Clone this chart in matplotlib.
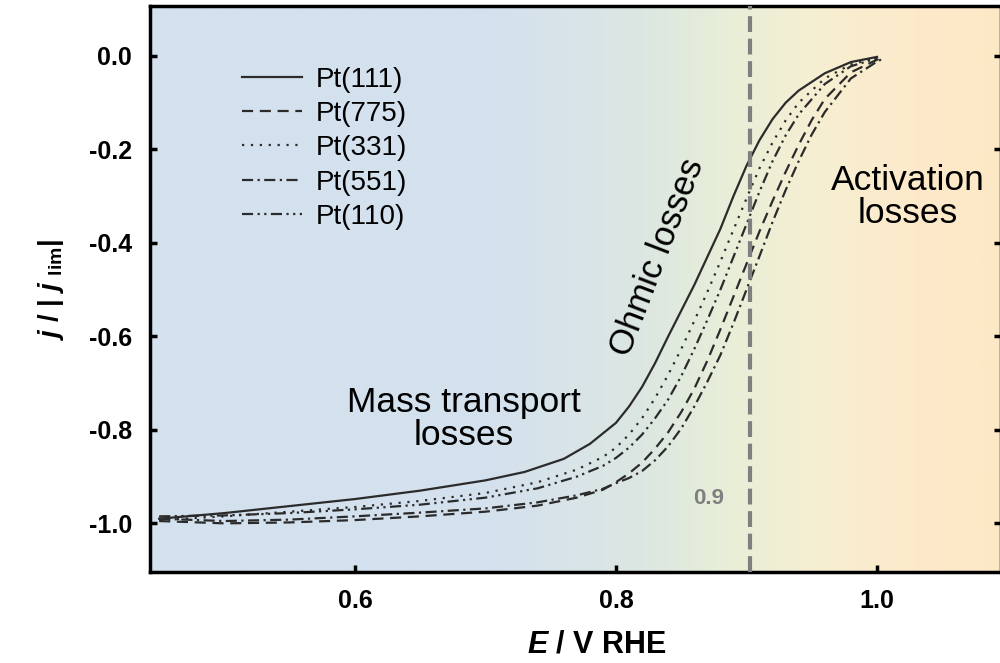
import numpy as np
import matplotlib.pyplot as plt
from matplotlib.colors import LinearSegmentedColormap

plt.rcParams['font.family'] = 'Liberation Sans'
plt.rcParams['mathtext.fontset'] = 'custom'
plt.rcParams['mathtext.rm'] = 'Liberation Sans:bold'
plt.rcParams['mathtext.it'] = 'Liberation Sans:italic:bold'
plt.rcParams['mathtext.bf'] = 'Liberation Sans:bold'

# normalised ORR polarisation curves, E in V vs RHE
E_111 = [0.45, 0.50, 0.55, 0.60, 0.65, 0.70, 0.73, 0.76, 0.78, 0.80, 0.81,
         0.82, 0.83, 0.84, 0.85, 0.86, 0.87, 0.88, 0.89, 0.90, 0.91, 0.92,
         0.93, 0.94, 0.96, 0.98, 1.00]
j_111 = [-0.990, -0.978, -0.963, -0.948, -0.930, -0.908, -0.890, -0.862,
         -0.830, -0.785, -0.750, -0.708, -0.657, -0.600, -0.545, -0.490,
         -0.430, -0.370, -0.300, -0.235, -0.180, -0.135, -0.100, -0.074,
         -0.037, -0.013, -0.002]

E_331 = [0.45, 0.50, 0.55, 0.60, 0.65, 0.70, 0.74, 0.77, 0.79, 0.80, 0.81,
         0.82, 0.83, 0.84, 0.85, 0.86, 0.87, 0.88, 0.89, 0.90, 0.91, 0.92,
         0.93, 0.94, 0.96, 0.98, 1.00]
j_331 = [-0.993, -0.985, -0.975, -0.965, -0.952, -0.935, -0.912, -0.885,
         -0.858, -0.838, -0.810, -0.775, -0.732, -0.682, -0.627, -0.567,
         -0.505, -0.440, -0.372, -0.305, -0.240, -0.185, -0.138, -0.100,
         -0.048, -0.018, -0.004]

E_110 = [0.45, 0.50, 0.55, 0.60, 0.65, 0.70, 0.74, 0.77, 0.79, 0.80, 0.81,
         0.82, 0.83, 0.84, 0.85, 0.86, 0.87, 0.88, 0.89, 0.90, 0.91, 0.92,
         0.93, 0.94, 0.96, 0.98, 1.00]
j_110 = [-0.985, -0.983, -0.978, -0.970, -0.960, -0.945, -0.925, -0.900,
         -0.877, -0.860, -0.838, -0.810, -0.775, -0.735, -0.685, -0.627,
         -0.565, -0.500, -0.430, -0.360, -0.290, -0.225, -0.170, -0.125,
         -0.060, -0.022, -0.005]

E_775 = [0.45, 0.50, 0.55, 0.60, 0.65, 0.70, 0.74, 0.77, 0.79, 0.80, 0.81,
         0.82, 0.83, 0.84, 0.85, 0.86, 0.87, 0.88, 0.89, 0.90, 0.91, 0.92,
         0.93, 0.94, 0.95, 0.96, 0.98, 1.00, 1.005]
j_775 = [-0.995, -1.000, -0.998, -0.993, -0.985, -0.975, -0.962, -0.945,
         -0.928, -0.912, -0.893, -0.870, -0.840, -0.805, -0.762, -0.712,
         -0.652, -0.585, -0.515, -0.445, -0.375, -0.310, -0.248, -0.190,
         -0.137, -0.092, -0.035, -0.008, -0.004]

E_551 = [0.45, 0.50, 0.55, 0.60, 0.65, 0.70, 0.74, 0.77, 0.79, 0.80, 0.81,
         0.82, 0.83, 0.84, 0.85, 0.86, 0.87, 0.88, 0.89, 0.90, 0.91, 0.92,
         0.93, 0.94, 0.95, 0.96, 0.98, 1.00, 1.005]
j_551 = [-0.990, -0.995, -0.992, -0.985, -0.977, -0.968, -0.955, -0.940,
         -0.926, -0.914, -0.903, -0.888, -0.865, -0.835, -0.797, -0.750,
         -0.697, -0.640, -0.572, -0.500, -0.428, -0.355, -0.287, -0.225,
         -0.168, -0.120, -0.048, -0.012, -0.005]

E_ref = 0.903

fig = plt.figure(figsize=(10, 6.63), dpi=100)
ax = fig.add_axes([0.150, 0.1373, 0.851, 0.8537])

# background gradient: blue -> green -> yellow -> peach
bg = LinearSegmentedColormap.from_list('bg', [
    (0.00, '#d4e1ee'), (0.40, '#d4e1ee'), (0.58, '#dce7e2'),
    (0.68, '#e8eed8'), (0.78, '#f6efd2'), (0.90, '#fdeacb'),
    (1.00, '#fde8c6')])
grad = np.linspace(0, 1, 512).reshape(1, -1)
ax.imshow(grad, cmap=bg, extent=[0, 1, 0, 1], transform=ax.transAxes,
          aspect='auto', zorder=0, interpolation='bicubic')

col = '#2b2b2b'
lw = 1.6
ax.plot(E_111, j_111, color=col, lw=lw, ls='-', label='Pt(111)')
ax.plot(E_775, j_775, color=col, lw=lw, ls=(0, (5, 3)), label='Pt(775)')
ax.plot(E_331, j_331, color=col, lw=lw, ls=(0, (1, 3)), label='Pt(331)')
ax.plot(E_551, j_551, color=col, lw=lw, ls=(0, (5, 2, 1, 2)), label='Pt(551)')
ax.plot(E_110, j_110, color=col, lw=lw, ls=(0, (5, 2, 1, 2, 1, 2)),
        label='Pt(110)')

ax.axvline(E_ref, color='#7f7f7f', lw=3, ls=(0, (3.8, 1.6)), zorder=3)
ax.text(0.871, -0.946, '0.9', color='#7f7f7f', fontsize=16,
        fontweight='bold', ha='center', va='center')

ax.text(0.6835, -0.776, 'Mass transport\nlosses', fontsize=25.5,
        ha='center', va='center', linespacing=1.0)
ax.text(1.0235, -0.302, 'Activation\nlosses', fontsize=25.5,
        ha='center', va='center', linespacing=1.0)
ax.text(0.832, -0.43, 'Ohmic losses', fontsize=25, rotation=69,
        ha='center', va='center', rotation_mode='anchor')

ax.set_xlim(0.443, 1.095)
ax.set_ylim(-1.104, 0.107)
ax.set_xticks([0.6, 0.8, 1.0])
ax.set_yticks([0.0, -0.2, -0.4, -0.6, -0.8, -1.0])
ax.set_xticklabels(['0.6', '0.8', '1.0'])
ax.set_yticklabels(['0.0', '-0.2', '-0.4', '-0.6', '-0.8', '-1.0'])
ax.tick_params(axis='both', direction='in', length=5, width=2.5,
               labelsize=18)
ax.tick_params(axis='y', right=True, pad=13)
ax.tick_params(axis='x', pad=12)
for lab in ax.get_xticklabels() + ax.get_yticklabels():
    lab.set_fontweight('bold')
for s in ax.spines.values():
    s.set_linewidth(2.5)

ax.set_xlabel(r'$E$ / V RHE', fontsize=22, fontweight='bold')
ax.xaxis.set_label_coords(0.525, -0.102)
ax.set_ylabel(r'$j$ / | $j$ $_{\mathrm{lim}}$|', fontsize=20,
              fontweight='bold', labelpad=16)

leg = ax.legend(loc='upper left', bbox_to_anchor=(0.108, 0.893),
                frameon=False, fontsize=20, handlelength=2.16,
                labelspacing=0.3, handletextpad=0.5, borderaxespad=0,
                borderpad=0)

fig.savefig('out.png', dpi=100)
